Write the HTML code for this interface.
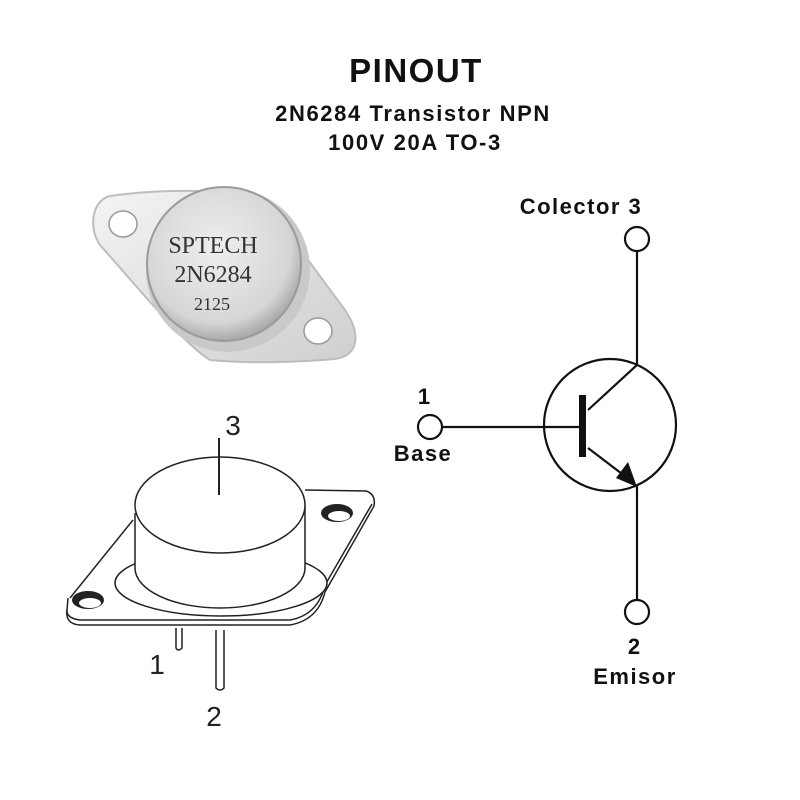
<!DOCTYPE html>
<html><head><meta charset="utf-8"><style>
html,body{margin:0;padding:0;background:#fff;width:800px;height:800px;overflow:hidden}
svg{display:block}
</style></head><body>
<svg width="800" height="800" viewBox="0 0 800 800" xmlns="http://www.w3.org/2000/svg">
<rect width="800" height="800" fill="#fff"/>
<g font-family="Liberation Sans, sans-serif" font-weight="bold" fill="#111" text-anchor="middle">
<text x="416" y="82" font-size="33" letter-spacing="1.5">PINOUT</text>
<text x="413" y="121" font-size="22" letter-spacing="1.6">2N6284 Transistor NPN</text>
<text x="415" y="150" font-size="22" letter-spacing="1.6">100V 20A TO-3</text>
<text x="581" y="214" font-size="22" letter-spacing="1.5">Colector 3</text>
<text x="424" y="404" font-size="22">1</text>
<text x="423" y="461" font-size="22" letter-spacing="1.5">Base</text>
<text x="634" y="654" font-size="22">2</text>
<text x="635" y="684" font-size="22" letter-spacing="1.5">Emisor</text>
</g>
<!-- photo -->
<defs>
<radialGradient id="cap" cx="45%" cy="40%" r="60%"><stop offset="0" stop-color="#eeeeec"/><stop offset="0.8" stop-color="#d6d6d4"/><stop offset="1" stop-color="#a9a9a7"/></radialGradient>
<linearGradient id="plate" x1="0" y1="0" x2="1" y2="1"><stop offset="0" stop-color="#f4f4f2"/><stop offset="1" stop-color="#cfcfcd"/></linearGradient>
</defs>
<path d="M110,196 C150,190 200,190 245,193 C265,196 300,250 345,310 C362,335 358,356 335,359 C300,362 250,364 210,360 C185,345 140,290 100,245 C88,228 92,200 110,196 Z" fill="url(#plate)" stroke="#bdbdbb" stroke-width="2"/>
<ellipse cx="123" cy="224" rx="14" ry="13" fill="#fff" stroke="#999" stroke-width="1.5"/>
<ellipse cx="318" cy="331" rx="14" ry="13" fill="#fff" stroke="#999" stroke-width="1.5"/>
<circle cx="228" cy="270" r="82" fill="#c9c9c7"/>
<circle cx="224" cy="264" r="77" fill="url(#cap)" stroke="#9a9a98" stroke-width="2"/>
<g font-family="Liberation Serif, serif" fill="#333" text-anchor="middle">
<text x="213" y="253" font-size="24">SPTECH</text>
<text x="213" y="282" font-size="24">2N6284</text>
<text x="212" y="310" font-size="18">2125</text>
</g>
<!-- line drawing -->
<g fill="none" stroke="#222" stroke-width="1.5">
<path d="M70,598 L133,520 M305,490 L366,491 Q376,494 374,506 L325,592 Q318,620 290,625 L80,625 Q65,624 67,610 L68,598"/>
<path d="M67,610 Q66,618 80,620 L290,620 Q318,615 325,585 L372,504"/>
<ellipse cx="221" cy="583" rx="106" ry="33" fill="#fff"/>
<path d="M135,513 L135,568 A85,40 0 0 0 305,568 L305,505" fill="#fff"/>
<ellipse cx="220" cy="505" rx="85" ry="48" fill="#fff"/>
<line x1="219" y1="438" x2="219" y2="495" stroke-width="2"/>
<path d="M176,628 L176,648 Q178,652 182,648 L182,628"/>
<path d="M216,630 L216,688 Q220,692 224,688 L224,630"/>
</g>
<ellipse cx="88" cy="600" rx="16" ry="9" fill="#222"/>
<ellipse cx="90" cy="603" rx="11" ry="5" fill="#fff"/>
<ellipse cx="337" cy="513" rx="16" ry="9" fill="#222"/>
<ellipse cx="339" cy="516" rx="11" ry="5" fill="#fff"/>
<g font-family="Liberation Sans, sans-serif" fill="#222" font-size="28" text-anchor="middle">
<text x="233" y="435">3</text>
<text x="157" y="674">1</text>
<text x="214" y="726">2</text>
</g>
<!-- schematic -->
<g fill="none" stroke="#111" stroke-width="2.2">
<circle cx="610" cy="425" r="66"/>
<circle cx="637" cy="239" r="12"/>
<circle cx="430" cy="427" r="12"/>
<circle cx="637" cy="612" r="12"/>
<line x1="637" y1="251" x2="637" y2="365"/>
<line x1="637" y1="365" x2="588" y2="410"/>
<line x1="442" y1="427" x2="583" y2="427"/>
<line x1="588" y1="448" x2="630" y2="480"/>
<line x1="637" y1="485" x2="637" y2="600"/>
</g>
<rect x="579" y="395" width="7" height="62" fill="#111"/>
<polygon points="637,487 616,478 628,462" fill="#111"/>
</svg>
</body></html>
